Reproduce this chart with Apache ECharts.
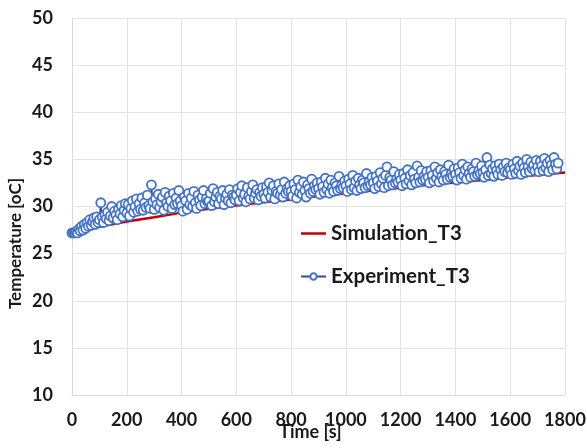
<!DOCTYPE html>
<html>
<head>
<meta charset="utf-8">
<script src="https://cdn.jsdelivr.net/npm/echarts@6/dist/echarts.min.js"></script>
<style>html,body{margin:0;padding:0;background:#fff}#c{width:587px;height:448px}</style>
</head>
<body>
<div id="c"></div>
<script>
// Simulation_T3: time [s] and temperature [oC]
const simTime = [0,100,200,300,400,500,600,700,800,900,1000,1100,1200,1300,1400,1500,1600,1700,1800];
const simTemp = [27.2,27.85,28.4,28.85,29.35,29.75,30.1,30.45,30.75,31.1,31.4,31.7,32.0,32.3,32.55,32.8,33.1,33.35,33.62];

// Experiment_T3: sampled every 5 s starting at 0 s
const expStart = 0;
const expStep = 5;
const expTemp = [
  27.2,27.2,27.2,27.3,27.2,27.6,27.4,27.9,27.5,28.1,27.7,28.3,27.9,28.6,28.0,28.4,28.8,28.1,28.9,28.3,
  28.6,30.4,28.9,28.3,29.1,28.7,29.4,28.5,29.0,30.0,28.8,29.5,29.1,28.6,29.7,29.2,30.1,28.9,29.6,30.3,
  29.3,30.2,29.0,29.8,30.6,29.4,30.0,30.8,29.5,30.3,29.7,30.9,29.6,30.4,29.9,31.2,30.1,29.8,32.3,30.5,
  29.7,30.8,30.2,31.3,29.9,30.5,31.0,29.6,31.5,30.4,30.0,31.1,30.6,29.8,31.4,30.2,30.9,30.3,31.7,30.6,
  30.1,29.5,31.0,30.6,29.7,31.4,30.2,30.9,30.0,31.6,30.4,29.8,31.2,30.7,30.1,31.0,31.7,30.3,30.8,30.5,
  30.6,31.4,30.1,31.9,30.5,31.0,31.5,30.3,31.1,30.8,31.7,30.2,30.9,31.3,30.6,31.8,30.4,31.2,31.0,30.7,
  31.2,31.9,30.6,31.5,32.2,30.9,31.3,30.5,32.0,31.1,30.8,31.6,32.3,30.9,31.4,31.8,30.7,31.5,31.1,32.0,
  31.3,30.9,32.1,31.5,32.5,31.0,31.7,32.2,30.8,31.6,31.4,32.4,31.2,31.8,31.0,32.6,31.4,31.9,31.6,32.2,
  31.6,31.1,32.4,31.8,30.9,32.8,31.5,32.1,31.3,32.6,31.7,31.0,32.3,31.9,31.4,32.9,31.6,32.2,31.8,32.5,
  31.9,31.3,32.6,32.1,31.5,33.0,31.8,32.4,31.4,32.8,32.0,31.6,32.5,32.2,31.7,33.2,31.9,32.3,32.0,32.7,
  32.2,31.6,32.9,32.4,31.8,33.3,32.0,32.7,31.7,33.0,32.3,31.9,32.8,32.5,32.0,33.5,32.2,32.6,32.3,33.1,
  32.5,31.9,33.2,32.7,32.1,33.6,32.4,33.0,32.0,33.3,34.2,32.2,33.1,32.8,32.3,33.7,32.5,32.9,32.6,33.4,
  32.8,32.2,33.5,33.0,32.4,33.9,32.7,33.3,32.3,33.6,32.9,32.5,34.3,33.1,32.6,33.8,32.8,33.2,32.9,33.7,
  33.1,32.5,33.8,33.3,32.7,34.2,33.0,33.6,32.6,33.9,33.2,32.8,33.7,33.4,32.9,34.4,33.1,33.5,33.2,34.0,
  33.4,32.8,34.1,33.6,33.0,34.5,33.3,33.9,32.9,34.2,33.5,33.1,34.0,33.7,33.2,34.6,33.4,33.8,33.5,34.3,
  33.6,33.1,33.9,35.2,33.3,34.4,33.5,34.0,33.2,34.3,33.8,33.4,34.5,33.9,33.3,34.2,33.7,34.6,33.6,34.1,
  33.9,33.4,34.5,34.0,33.5,34.8,33.8,34.3,33.4,34.6,34.1,33.6,35.0,34.2,33.7,34.7,34.0,34.4,33.8,34.9,
  34.2,33.7,34.8,34.3,33.8,35.1,34.1,34.6,33.7,34.9,34.4,33.9,35.2,34.5,34.0,34.6
];

const xMin = 0, xMax = 1800, xInterval = 200;
const yMin = 10, yMax = 50, yInterval = 5;
const xName = 'Time [s]';
const yName = 'Temperature [oC]';
const seriesNames = ['Simulation_T3', 'Experiment_T3'];

const simData = simTime.map((t, i) => [t, simTemp[i]]);
const expData = expTemp.map((v, i) => [expStart + i * expStep, v]);

const FONT = 'Lato';
const TXT = '#1a1a1a';
const chart = echarts.init(document.getElementById('c'), null, {renderer: 'canvas'});
chart.setOption({
  animation: false,
  backgroundColor: '#ffffff',
  grid: {left: 72, right: 22, top: 18, bottom: 53, containLabel: false, outerBoundsMode: 'none'},
  legend: {
    orient: 'vertical',
    left: 295, top: 218,
    itemWidth: 25, itemHeight: 8, itemGap: 22,
    data: [
      {name: seriesNames[0], icon: 'path://M0,0L25,0L25,2.5L0,2.5Z', itemStyle: {color: '#c00000'}},
      {name: seriesNames[1]}
    ],
    textStyle: {fontFamily: FONT, fontWeight: 'bold', fontSize: 20.5, color: TXT}
  },
  xAxis: {
    type: 'value', min: xMin, max: xMax, interval: xInterval,
    name: xName, nameLocation: 'middle', nameGap: 28, nameMoveOverlap: false,
    nameTextStyle: {fontFamily: FONT, fontWeight: 'bold', fontSize: 18, color: TXT, padding: [0, 16, 0, 0]},
    axisLine: {show: true, lineStyle: {color: '#d9d9d9', width: 1}},
    axisTick: {show: false},
    axisLabel: {margin: 16, fontFamily: FONT, fontWeight: 'bold', fontSize: 18, color: TXT,
      formatter: (v) => String(v)},
    splitLine: {show: true, lineStyle: {color: '#e3e3e3', width: 1}}
  },
  yAxis: {
    type: 'value', min: yMin, max: yMax, interval: yInterval,
    name: yName, nameLocation: 'middle', nameGap: 48, nameRotate: 90, nameMoveOverlap: false,
    nameTextStyle: {fontFamily: FONT, fontWeight: 'bold', fontSize: 17, color: TXT, padding: [0, 74, 0, 0]},
    axisLine: {show: true, lineStyle: {color: '#d9d9d9', width: 1}},
    axisTick: {show: false},
    axisLabel: {margin: 19, fontFamily: FONT, fontWeight: 'bold', fontSize: 18, color: TXT},
    splitLine: {show: true, lineStyle: {color: '#e3e3e3', width: 1}}
  },
  series: [
    {
      name: seriesNames[0], type: 'line', data: simData,
      symbol: 'none', smooth: false, z: 2,
      lineStyle: {color: '#c00000', width: 2.5},
      itemStyle: {color: '#c00000'}
    },
    {
      name: seriesNames[1], type: 'line', data: expData,
      symbol: 'circle', symbolSize: 9, showAllSymbol: true, sampling: null, z: 3,
      lineStyle: {color: '#2f4f7f', width: 1.5},
      itemStyle: {color: '#ffffff', borderColor: '#4472c4', borderWidth: 1.8}
    }
  ]
});
</script>
</body>
</html>
